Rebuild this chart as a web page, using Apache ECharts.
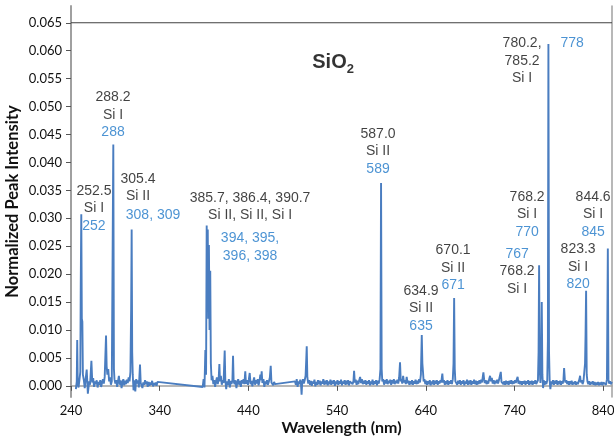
<!DOCTYPE html>
<html>
<head>
<meta charset="utf-8">
<script src="https://cdn.jsdelivr.net/npm/echarts@6/dist/echarts.min.js"></script>
<style>
  html, body { margin: 0; padding: 0; background: #fff; }
  #chart { width: 614px; height: 436px; }
</style>
</head>
<body>
<div id="chart"></div>
<script>
// wavelength (nm), normalized intensity
var segUV = [
  [245.5, -0.0006], [246.5, 0.0008], [247, 0.0082], [247.6, 0.0005], [248.5, -0.0003], [249.5, 0.0010],
  [250.5, 0.0025], [251, 0.0184], [251.6, 0.0307], [252.2, 0.0120], [252.8, 0.0115], [253.4, 0.0020],
  [254.5, 0.0010], [255.5, -0.0004], [256.5, 0.0012], [257.7, 0.0029], [258.5, 0.0003], [259, -0.0014],
  [260.5, 0.0008], [261.5, 0.0002], [263, 0.0045], [264, 0.0006], [265, 0.0014], [266, -0.0002],
  [267, 0.0008], [268, 0.0003], [269, 0.0010], [270, -0.0003], [271, 0.0007], [272, 0.0002],
  [273, 0.0010], [274, -0.0002], [275, 0.0006], [276, 0.0012], [277, 0.0004], [278, 0.0016],
  [279.5, 0.0090], [280.2, 0.0035], [281, 0.0020], [282, 0.0030], [283, 0.0008], [284, 0.0015],
  [285, 0.0002], [286, 0.0008], [287, 0.0010], [287.7, 0.0432], [288.4, 0.0030], [289, 0.0012],
  [290, 0.0004], [291, 0.0010], [292, -0.0002], [293, 0.0008], [294, 0.0018], [295, 0.0002],
  [296, 0.0010], [297, -0.0004], [298, 0.0006], [299, 0.0012], [300, 0.0001], [301, 0.0009],
  [302, 0.0003], [303, 0.0011], [304, 0.0005], [305, 0.0015], [306, 0.0008], [307, 0.0025],
  [307.8, 0.0136], [308.4, 0.0280], [309, 0.0060], [309.6, 0.0020], [310.5, -0.0008], [311.5, 0.0010],
  [312.5, -0.0010], [313.5, 0.0012], [314.5, 0.0004], [315.5, 0.0010], [316.5, -0.0003], [317.8, 0.0038],
  [318.6, 0.0005], [319.5, 0.0008], [320.5, -0.0004], [321.5, 0.0006], [322.5, 0.0002], [323.5, 0.0010],
  [324.5, 0.0003], [325.5, 0.0008], [326.5, -0.0002], [327.5, 0.0007], [328.5, 0.0000], [329.5, 0.0006],
  [330.5, 0.0002], [331.5, 0.0009], [332.5, -0.0001], [333.5, 0.0005], [334.5, 0.0001], [335.5, 0.0006],
  [336.5, 0.0000], [337.5, 0.0007], [338.5, 0.0004]
];

var segBlue = [
  [388.5, -0.0002], [389.5, 0.0012], [390.5, -0.0003], [391.5, 0.0064], [392.3, 0.0020], [393, 0.0287],
  [393.6, 0.0150], [394.2, 0.0280], [394.8, 0.0120], [395.5, 0.0252], [396.2, 0.0100], [397, 0.0206],
  [397.7, 0.0040], [398.5, 0.0010], [399.5, 0.0018], [400.5, 0.0003], [401.5, 0.0010], [402.5, -0.0002],
  [403.5, 0.0008], [404.5, 0.0015], [405.5, 0.0003], [406.5, 0.0012], [407.3, 0.0039], [408, 0.0008],
  [409, 0.0018], [410, 0.0002], [411, 0.0010], [412, 0.0005], [413.3, 0.0063], [414, 0.0010],
  [415, -0.0006], [416, 0.0008], [417, 0.0002], [418, 0.0012], [419, -0.0003], [420, 0.0009],
  [421, 0.0003], [422, 0.0010], [422.7, 0.0054], [423.4, 0.0008], [424.5, 0.0003], [425.5, 0.0010],
  [426.5, -0.0004], [427.5, 0.0006], [428.5, 0.0012], [429.5, 0.0002], [430.5, 0.0009], [431.5, -0.0002],
  [432.5, 0.0010], [433.5, 0.0004], [434.5, 0.0012], [435.5, 0.0003], [436.5, 0.0026], [437.3, 0.0004],
  [438.5, 0.0010], [439.5, 0.0002], [440.5, 0.0011], [441.5, 0.0023], [442.5, 0.0003], [443.5, 0.0009],
  [444.5, -0.0001], [445.5, 0.0008], [446.5, 0.0015], [447.5, 0.0002], [448.5, 0.0010], [449.5, 0.0004],
  [450.5, 0.0012], [451.5, 0.0001], [452.5, 0.0008], [453.5, 0.0020], [454.3, 0.0010], [455, 0.0026],
  [455.8, 0.0005], [457, 0.0012], [458, -0.0002], [459, 0.0008], [460, 0.0003], [461, 0.0010],
  [462, 0.0002], [463, 0.0007], [464.2, 0.0015], [465.2, 0.0036], [466, 0.0006], [467, 0.0009],
  [468, 0.0001], [469, 0.0007], [470, 0.0003], [471, 0.0006], [472, 0.0004]
];

var segVisNir = [
  [492.6, 0.0008], [493.5, 0.0002], [494.5, 0.0012], [495.5, -0.0002], [496.5, 0.0008], [497.5, 0.0003],
  [498.5, 0.0011], [499.3, 0.0004], [500, -0.0016], [500.7, 0.0006], [501.5, 0.0012], [502.5, 0.0004],
  [503.5, 0.0010], [504.5, 0.0018], [505.2, 0.0045], [505.8, 0.0071], [506.5, 0.0015], [507.5, 0.0004],
  [508.5, 0.0010], [509.5, 0.0002], [510.5, 0.0009], [511.5, 0.0000], [512.5, 0.0008], [513.5, 0.0004],
  [514.5, 0.0011], [515.5, -0.0001], [516.5, 0.0007], [517.5, 0.0002], [518.5, 0.0010], [519.5, 0.0003],
  [520.5, 0.0009], [521.5, 0.0001], [522.5, 0.0008], [523.5, 0.0004], [524.5, 0.0012], [525.5, 0.0002],
  [526.5, 0.0009], [527.5, 0.0003], [528.5, 0.0010], [529.5, 0.0001], [530.5, 0.0008], [531.5, 0.0003],
  [532.5, 0.0011], [533.5, 0.0002], [534.5, 0.0009], [535.5, 0.0004], [536.5, 0.0010], [537.5, 0.0000],
  [538.5, 0.0008], [539.5, 0.0003], [540.5, 0.0010], [541.5, 0.0002], [542.5, 0.0008], [543.5, 0.0004],
  [544.5, 0.0011], [545.5, 0.0001], [546.5, 0.0008], [547.5, 0.0004], [548.5, 0.0010], [549.5, 0.0002],
  [550.5, 0.0009], [551.5, 0.0003], [552.5, 0.0010], [553.5, 0.0001], [554.5, 0.0008], [555.5, 0.0005],
  [556.5, 0.0011], [557.5, 0.0003], [558.5, 0.0009], [559.2, 0.0027], [560, 0.0006], [561, 0.0011],
  [562, 0.0002], [563, 0.0009], [564, 0.0003], [565, 0.0010], [566, 0.0016], [567, 0.0005],
  [568, 0.0012], [569, 0.0003], [570, 0.0009], [571, 0.0004], [572, 0.0010], [573, 0.0002],
  [574, 0.0008], [575, 0.0004], [576, 0.0010], [577, 0.0001], [578, 0.0008], [579, 0.0003],
  [580, 0.0011], [581, 0.0002], [582, 0.0008], [583, 0.0004], [584, 0.0010], [585, 0.0001],
  [586, 0.0009], [587, 0.0004], [588, 0.0012], [588.9, 0.0030], [589.6, 0.0363], [590.3, 0.0030],
  [591, 0.0008], [592, 0.0012], [593, 0.0002], [594, 0.0010], [595, 0.0004], [596, 0.0012],
  [597, 0.0003], [598, 0.0009], [599, 0.0005], [600, 0.0011], [601, 0.0002], [602, 0.0010],
  [603, 0.0004], [604, 0.0012], [605, 0.0003], [606, 0.0009], [607, 0.0005], [608, 0.0011],
  [609, 0.0004], [610, 0.0015], [611, 0.0042], [611.8, 0.0008], [612.5, 0.0012], [613.5, 0.0004],
  [614.5, 0.0018], [615.5, 0.0006], [616.5, 0.0010], [617.5, 0.0003], [618.5, 0.0016], [619.5, 0.0005],
  [620.5, 0.0009], [621.5, 0.0002], [622.5, 0.0008], [623.5, 0.0003], [624.5, 0.0010], [625.5, 0.0002],
  [626.5, 0.0008], [627.5, 0.0004], [628.5, 0.0011], [629.5, 0.0003], [630.5, 0.0009], [631.5, 0.0004],
  [632.5, 0.0012], [633.5, 0.0006], [634.5, 0.0020], [635.5, 0.0091], [636.2, 0.0040], [636.9, 0.0025],
  [637.6, 0.0008], [638.5, 0.0012], [639.5, 0.0003], [640.5, 0.0009], [641.5, 0.0002], [642.5, 0.0008],
  [643.5, 0.0003], [644.5, 0.0010], [645.5, 0.0001], [646.5, 0.0008], [647.5, 0.0003], [648.5, 0.0010],
  [649.5, 0.0002], [650.5, 0.0009], [651.5, 0.0004], [652.5, 0.0010], [653.5, 0.0002], [654.5, 0.0008],
  [655.5, 0.0004], [656.5, 0.0010], [657.5, 0.0006], [658.7, 0.0022], [659.5, 0.0006], [660.5, 0.0010],
  [661.5, 0.0002], [662.5, 0.0008], [663.5, 0.0003], [664.5, 0.0010], [665.5, 0.0002], [666.5, 0.0008],
  [667.5, 0.0004], [668.5, 0.0010], [669.5, 0.0003], [670.5, 0.0012], [671.3, 0.0040], [672, 0.0157],
  [672.7, 0.0030], [673.4, 0.0008], [674.5, 0.0011], [675.5, 0.0002], [676.5, 0.0009], [677.5, 0.0004],
  [678.5, 0.0010], [679.5, 0.0002], [680.5, 0.0008], [681.5, 0.0004], [682.5, 0.0010], [683.5, 0.0001],
  [684.5, 0.0008], [685.5, 0.0004], [686.5, 0.0011], [687.5, 0.0002], [688.5, 0.0009], [689.5, 0.0003],
  [690.5, 0.0010], [691.5, 0.0002], [692.5, 0.0008], [693.5, 0.0004], [694.5, 0.0011], [695.5, 0.0003],
  [696.5, 0.0009], [697.5, 0.0002], [698.5, 0.0008], [699.5, 0.0003], [700.5, 0.0010], [701.5, 0.0004],
  [702.5, 0.0011], [703.5, 0.0006], [704.3, 0.0016], [705, 0.0024], [705.8, 0.0012], [706.5, 0.0005],
  [707.5, 0.0010], [708.5, 0.0003], [709.5, 0.0009], [710.5, 0.0004], [711.5, 0.0012], [712.5, 0.0018],
  [713.5, 0.0008], [714.5, 0.0014], [715.5, 0.0004], [716.5, 0.0010], [717.5, 0.0003], [718.5, 0.0009],
  [719.5, 0.0005], [720.5, 0.0011], [721.5, 0.0004], [722.5, 0.0010], [723.5, 0.0008], [724.6, 0.0025],
  [725.4, 0.0007], [726.5, 0.0010], [727.5, 0.0003], [728.5, 0.0008], [729.5, 0.0002], [730.5, 0.0009],
  [731.5, 0.0003], [732.5, 0.0008], [733.5, 0.0002], [734.5, 0.0009], [735.5, 0.0004], [736.5, 0.0010],
  [737.5, 0.0003], [738.5, 0.0008], [739.5, 0.0004], [740.5, 0.0010], [741.5, 0.0005], [742.5, 0.0011],
  [743.6, 0.0016], [744.5, 0.0004], [745.5, 0.0009], [746.5, 0.0003], [747.5, 0.0008], [748.5, 0.0002],
  [749.5, 0.0008], [750.5, 0.0004], [751.5, 0.0009], [752.5, 0.0002], [753.5, 0.0008], [754.5, 0.0004],
  [755.5, 0.0010], [756.5, 0.0002], [757.5, 0.0008], [758.5, 0.0003], [759.5, 0.0009], [760.5, 0.0002],
  [761.5, 0.0008], [762.5, 0.0004], [763.5, 0.0010], [764.5, 0.0003], [765.5, 0.0006], [766.5, 0.0010],
  [767.2, 0.0060], [767.8, 0.0216], [768.5, 0.0030], [769.3, 0.0005], [770.1, 0.0030], [770.8, 0.0150],
  [771.5, 0.0020], [772.3, -0.0004], [773, 0.0010], [774, 0.0002], [775, 0.0008], [776, 0.0003],
  [777, 0.0010], [777.7, 0.0080], [778.3, 0.0612], [779, 0.0060], [779.7, 0.0010], [780.5, -0.0006],
  [781.5, 0.0008], [782.5, 0.0003], [783.5, 0.0010], [784.5, 0.0002], [785.5, 0.0009], [786.5, 0.0004],
  [787.5, 0.0010], [788.5, 0.0002], [789.5, 0.0008], [790.5, 0.0003], [791.5, 0.0009], [792.5, 0.0002],
  [793.5, 0.0008], [794.5, 0.0004], [795.3, 0.0012], [796, 0.0032], [796.8, 0.0012], [797.5, 0.0006],
  [798.5, 0.0010], [799.5, 0.0003], [800.5, 0.0008], [801.5, 0.0002], [802.5, 0.0008], [803.5, 0.0003],
  [804.5, 0.0009], [805.5, 0.0002], [806.5, 0.0007], [807.5, 0.0003], [808.5, 0.0008], [809.5, 0.0002],
  [810.5, 0.0007], [811.5, 0.0003], [812.5, 0.0008], [813.3, 0.0012], [814, 0.0018], [814.8, 0.0006],
  [815.8, 0.0010], [816.8, 0.0003], [817.8, 0.0008], [818.8, 0.0010], [819.6, 0.0040], [820.2, 0.0093],
  [820.8, 0.0170], [821.5, 0.0020], [822.3, 0.0008], [823.3, 0.0003], [824.3, 0.0008], [825.3, 0.0002],
  [826.3, 0.0007], [827.3, 0.0003], [828.3, 0.0008], [829.3, 0.0002], [830.3, 0.0007], [831.3, 0.0001],
  [832.3, 0.0006], [833.3, 0.0002], [834.3, 0.0007], [835.3, 0.0001], [836.3, 0.0006], [837.3, 0.0002],
  [838.3, 0.0007], [839.3, 0.0001], [840.3, 0.0006], [841.3, 0.0003], [842.3, 0.0007], [843.3, 0.0002],
  [844.3, 0.0012], [845.3, 0.0246], [846, 0.0012], [846.8, 0.0004], [847.8, 0.0008], [848.8, 0.0003],
  [849.8, 0.0007]
];

var xTicks = [240, 340, 440, 540, 640, 740, 840];
var yTicks = [0, 0.005, 0.01, 0.015, 0.02, 0.025, 0.03, 0.035, 0.04, 0.045, 0.05, 0.055, 0.06, 0.065];
var xRange = [240, 850];
var yRange = [-0.002, 0.068];
var topRule = 0.065;

// peak annotations: [wavelength, intensity] of the text anchor, black lines, blue lines
var peakNotes = [
  [[265.9, 0.0318], ['252.5', 'Si I'], ['252']],
  [[287.4, 0.0485], ['288.2', 'Si I'], ['288']],
  [[315.6, 0.0355], ['305.4', 'Si II'], []],
  [[332.5, 0.0306], [], ['308, 309']],
  [[441.9, 0.0321], ['385.7, 386.4, 390.7', 'Si II, Si II, Si I'], []],
  [[441.9, 0.0248], [], ['394, 395,', '396, 398']],
  [[586.2, 0.0420], ['587.0', 'Si II'], ['589']],
  [[634.7, 0.0139], ['634.9', 'Si II'], ['635']],
  [[670.8, 0.0211], ['670.1', 'Si II'], ['671']],
  [[754.3, 0.0307], ['768.2', 'Si I'], ['770']],
  [[811.8, 0.0213], ['823.3', 'Si I'], ['820']],
  [[828.7, 0.0307], ['844.6', 'Si I'], ['845']],
  [[748.6, 0.0582], ['780.2,', '785.2', 'Si I'], []],
  [[805.0, 0.0614], [], ['778']]
];
// this one has the blue number above the black lines
var noteBlueFirst = [[743.0, 0.0205], ['768.2', 'Si I'], ['767']];
var sampleName = [535.5, 0.0578];

var BLACK = '#111';
var BLUE = '#1f78c8';
var LINE = '#4a7dc0';
var AXIS = '#a0a0a0';

function noteItem(n, blueFirst) {
  var black = n[1].map(function (t) { return '{k|' + t + '}'; });
  var blue = n[2].map(function (t) { return '{b|' + t + '}'; });
  var lines = blueFirst ? blue.concat(black) : black.concat(blue);
  return {
    value: n[0],
    label: { formatter: lines.join('\n') }
  };
}

var notesData = peakNotes.map(function (n) { return noteItem(n, false); });
notesData.push(noteItem(noteBlueFirst, true));

var chart = echarts.init(document.getElementById('chart'));

var option = {
  animation: false,
  grid: { left: 71, right: 2, top: 6, bottom: 39, containLabel: false, outerBoundsMode: 'none' },
  xAxis: {
    type: 'value',
    min: xRange[0],
    max: xRange[1],
    name: 'Wavelength (nm)',
    nameLocation: 'middle',
    nameGap: 23,
    nameMoveOverlap: false,
    nameTextStyle: { fontFamily: 'Lato', fontWeight: 'bold', fontSize: 16, color: BLACK },
    axisLine: { show: true, lineStyle: { color: AXIS, width: 1.5 } },
    axisTick: { show: true, customValues: xTicks, length: 5, lineStyle: { color: '#555' } },
    axisLabel: { customValues: xTicks, fontFamily: 'Lato', fontSize: 13, color: BLACK, margin: 7 },
    splitLine: { show: false }
  },
  yAxis: [{
    type: 'value',
    min: yRange[0],
    max: yRange[1],
    name: 'Normalized Peak Intensity',
    nameLocation: 'middle',
    nameGap: 50,
    nameMoveOverlap: false,
    nameTextStyle: { fontFamily: 'Lato', fontWeight: 'bold', fontSize: 16.5, color: BLACK },
    axisLine: { show: true, lineStyle: { color: AXIS, width: 2 } },
    axisTick: { show: true, customValues: yTicks, length: 5, lineStyle: { color: '#555' } },
    axisLabel: {
      customValues: yTicks, fontFamily: 'Lato', fontSize: 13, color: BLACK, margin: 9,
      formatter: function (v) { return v.toFixed(3); }
    },
    splitLine: { show: false }
  }, {
    type: 'value',
    position: 'right',
    min: yRange[0],
    max: yRange[1],
    axisLine: { show: true, lineStyle: { color: AXIS, width: 1.5 } },
    axisTick: { show: false },
    axisLabel: { show: false },
    splitLine: { show: false }
  }],
  series: [{
    type: 'line',
    data: segUV.concat(segBlue, segVisNir),
    showSymbol: false,
    symbol: 'none',
    sampling: 'none',
    lineStyle: { color: LINE, width: 1.9 },
    z: 3
  }, {
    // dark rule across the plot at 0.065
    type: 'line',
    data: [[xRange[0], topRule], [xRange[1], topRule]],
    symbol: 'none',
    silent: true,
    lineStyle: { color: '#404040', width: 1.2 },
    z: 2
  }, {
    type: 'scatter',
    data: notesData,
    symbolSize: 0,
    silent: true,
    label: {
      show: true,
      position: 'inside',
      align: 'center',
      verticalAlign: 'middle',
      rich: {
        k: { fontFamily: 'Liberation Sans', fontSize: 14, color: BLACK, lineHeight: 17.5 },
        b: { fontFamily: 'Liberation Sans', fontSize: 14, color: BLUE, lineHeight: 17.5 }
      }
    }
  }, {
    type: 'scatter',
    data: [sampleName],
    symbolSize: 0,
    silent: true,
    label: {
      show: true,
      position: 'inside',
      formatter: '{m|SiO}{s|2}',
      rich: {
        m: { fontFamily: 'Liberation Sans', fontWeight: 'bold', fontSize: 20, color: '#000', lineHeight: 26, verticalAlign: 'middle' },
        s: { fontFamily: 'Liberation Sans', fontWeight: 'bold', fontSize: 13, color: '#000', lineHeight: 13, verticalAlign: 'bottom' }
      }
    }
  }]
};

chart.setOption(option);
</script>
</body>
</html>
